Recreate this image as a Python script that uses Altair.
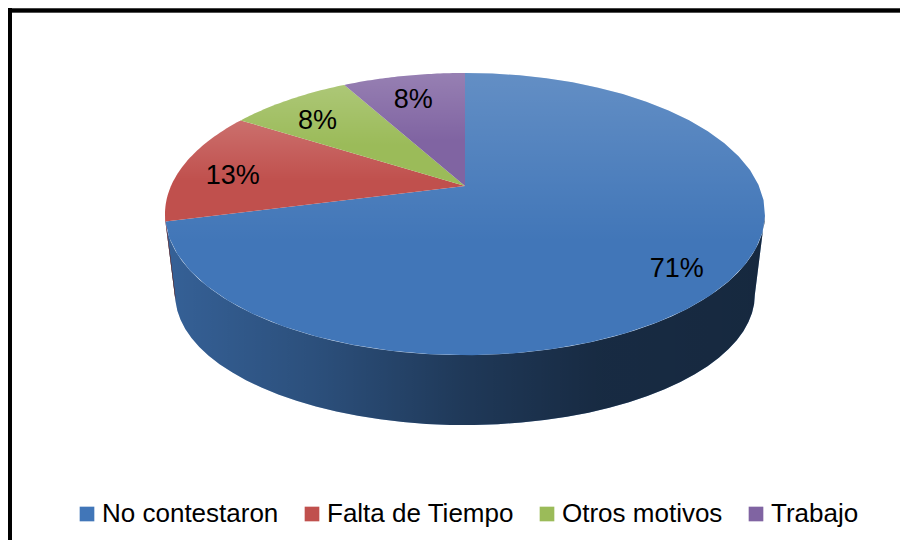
import altair as alt
import pandas as pd

# ---- data ----
categories = ["No contestaron", "Falta de Tiempo", "Otros motivos", "Trabajo"]
values = [71, 13, 8, 8]
colors = ["#4176b8", "#c0504d", "#9bbb59", "#8064a2"]

df = pd.DataFrame({"category": categories, "value": values, "order": list(range(len(categories)))})

# ---- geometry of the 3D perspective pie (layout only) ----
CX, CY = 457, 178          # apex of the top face (plot px)
RX, RY, K = 294, 135.5, 0.199
CYB, RXB, RYB = 261, 284, 125   # bottom ring
A0 = "(PI/2 + asin(%f))" % K
A1 = "(3*PI/2 - asin(%f))" % K
W, H = 892, 532

xs = alt.Scale(domain=[0, W], range=[0, W])
ys = alt.Scale(domain=[0, H], reverse=True)
fill_scale = alt.Scale(domain=categories, range=colors)
legend = alt.Legend(
    orient="none", legendX=66, legendY=493, direction="horizontal", title=None,
    symbolType="square", symbolSize=215, symbolStrokeWidth=0,
    labelFontSize=26, labelFont="Liberation Sans", labelColor="black", labelLimit=600,
    columnPadding=20, labelOffset=2, padding=0,
)
fill_enc = alt.Fill("category:N", scale=fill_scale, sort=categories, legend=legend)

base = alt.Chart(df).transform_window(
    cum="sum(value)", sort=[alt.SortField("order")]
).transform_joinaggregate(total="sum(value)").transform_calculate(
    a_start="(datum.cum - datum.value) / datum.total * 2 * PI",
    a_end="datum.cum / datum.total * 2 * PI",
)

# ---- side wall ----
wall_data = base.transform_calculate(
    lo=f"max(datum.a_start, {A0})", hi=f"min(datum.a_end, {A1})"
).transform_filter("datum.lo < datum.hi").transform_calculate(
    s="sequence(0, 82)"
).transform_flatten(["s"]).transform_calculate(
    a="datum.s <= 40 ? datum.lo + (datum.hi - datum.lo) * datum.s / 40 : datum.hi - (datum.hi - datum.lo) * (datum.s - 41) / 40",
).transform_calculate(
    px=f"datum.s <= 40 ? {CX} + {RX} * sin(datum.a) / (1 + {K} * cos(datum.a)) : {CX} + {RXB} * sin(datum.a) / (1 + {K} * cos(datum.a))",
    py=f"datum.s <= 40 ? {CY} - {RY} * cos(datum.a) / (1 + {K} * cos(datum.a)) : {CYB} - {RYB} * cos(datum.a) / (1 + {K} * cos(datum.a))",
)

wall = wall_data.mark_line(strokeWidth=0, strokeOpacity=0).encode(
    x=alt.X("px:Q", scale=xs, axis=None),
    y=alt.Y("py:Q", scale=ys, axis=None),
    fill=fill_enc,
    order=alt.Order("s:Q"),
)

wall_shade = wall_data.mark_line(
    strokeOpacity=0,
    fill=alt.Gradient(
        gradient="linear", x1=0, x2=1, y1=0, y2=0,
        stops=[
            alt.GradientStop(color="rgba(0,0,0,0.18)", offset=0),
            alt.GradientStop(color="rgba(0,0,0,0.33)", offset=0.25),
            alt.GradientStop(color="rgba(0,0,0,0.52)", offset=0.5),
            alt.GradientStop(color="rgba(0,0,0,0.64)", offset=0.72),
            alt.GradientStop(color="rgba(0,0,0,0.66)", offset=1),
        ],
    ),
).encode(
    x=alt.X("px:Q", scale=xs, axis=None),
    y=alt.Y("py:Q", scale=ys, axis=None),
    detail="category:N",
    order=alt.Order("s:Q"),
)

# ---- top face ----
top_data = base.transform_calculate(s="sequence(0, 42)").transform_flatten(["s"]).transform_calculate(
    a="datum.a_start + (datum.a_end - datum.a_start) * min(datum.s, 40) / 40"
).transform_calculate(
    px=f"datum.s == 41 ? {CX} : {CX} + {RX} * sin(datum.a) / (1 + {K} * cos(datum.a))",
    py=f"datum.s == 41 ? {CY} : {CY} - {RY} * cos(datum.a) / (1 + {K} * cos(datum.a))",
)

top = top_data.mark_line(strokeWidth=0, strokeOpacity=0).encode(
    x=alt.X("px:Q", scale=xs, axis=None),
    y=alt.Y("py:Q", scale=ys, axis=None),
    fill=fill_enc,
    order=alt.Order("s:Q"),
)

top_shine = top_data.mark_line(
    strokeOpacity=0,
    fill=alt.Gradient(
        gradient="linear", x1=0, x2=0, y1=0, y2=1,
        stops=[
            alt.GradientStop(color="rgba(255,255,255,0.18)", offset=0),
            alt.GradientStop(color="rgba(255,255,255,0.0)", offset=0.6),
        ],
    ),
).encode(
    x=alt.X("px:Q", scale=xs, axis=None),
    y=alt.Y("py:Q", scale=ys, axis=None),
    detail="category:N",
    order=alt.Order("s:Q"),
)

# ---- percentage labels ----
R_LAB = 0.82
labels = base.transform_calculate(
    m="(datum.a_start + datum.a_end) / 2",
    label="datum.value + '%'",
).transform_calculate(
    px=f"{CX} + {RX} * {R_LAB} * sin(datum.m) / (1 + {K} * {R_LAB} * cos(datum.m))",
    py=f"{CY} - {RY} * {R_LAB} * cos(datum.m) / (1 + {K} * {R_LAB} * cos(datum.m)) + 7",
).mark_text(font="Liberation Sans", fontSize=27, color="black", baseline="middle", align="center").encode(
    x=alt.X("px:Q", scale=xs, axis=None),
    y=alt.Y("py:Q", scale=ys, axis=None),
    text="label:N",
)

# ---- frame (top and left border) ----
frame_top = alt.Chart(df).mark_rule(color="black", strokeWidth=3.5).encode(
    x=alt.value(0), x2=alt.value(W), y=alt.value(2.5)
)
frame_left = alt.Chart(df).mark_rule(color="black", strokeWidth=4.5).encode(
    x=alt.value(1.5), y=alt.value(0), y2=alt.value(H)
)

chart = alt.layer(wall, wall_shade, top, top_shine, labels, frame_top, frame_left).properties(
    width=W, height=H, padding=0, autosize=alt.AutoSizeParams(type="none")
).configure_view(stroke=None).configure(font="Liberation Sans")

chart.save("out.html", embed_options={"renderer": "svg", "actions": False})
